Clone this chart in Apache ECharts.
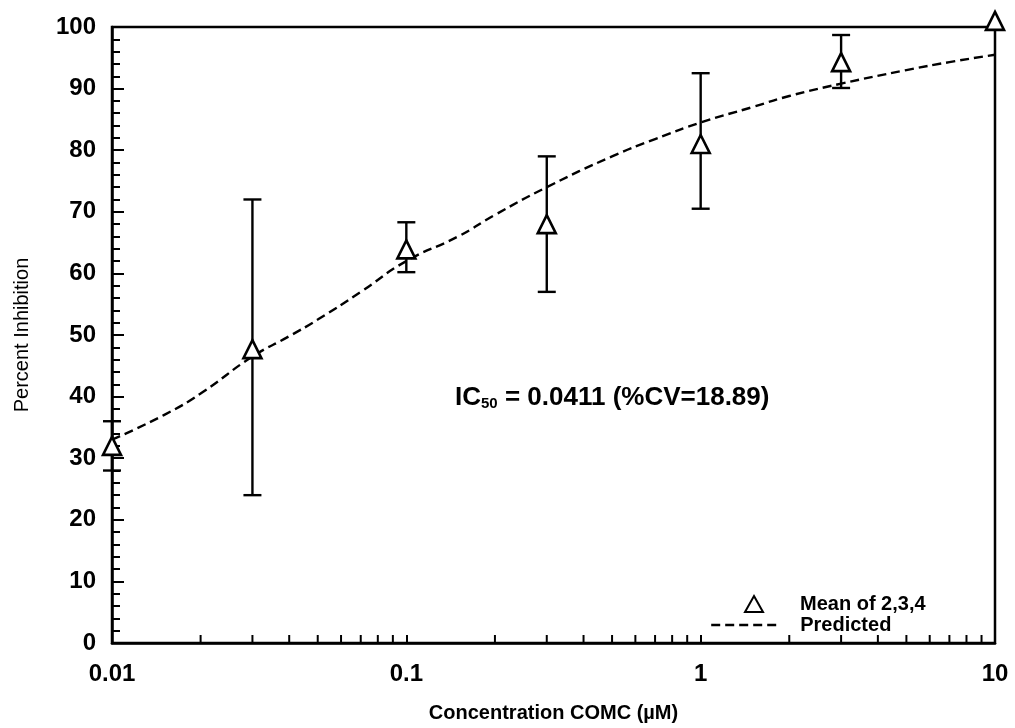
<!DOCTYPE html>
<html>
<head>
<meta charset="utf-8">
<script src="https://cdn.jsdelivr.net/npm/echarts@6/dist/echarts.min.js"></script>
<style>
html,body{margin:0;padding:0;background:#fff;}
#chart{width:1015px;height:728px;}
</style>
</head>
<body>
<div id="chart"></div>
<script>
// ---- data ----
const concentrations = [0.01, 0.03, 0.1, 0.3, 1, 3, 10];
const meanInhibition = [32, 47.7, 63.9, 68, 81, 94.3, 101];
const errLow = [28, 24, 60.2, 57, 70.5, 90.1, null];
const errHigh = [36, 72, 68.3, 79, 92.5, 98.7, null];

const predX = [0.01, 0.015, 0.02, 0.03, 0.04, 0.05, 0.07, 0.1, 0.15, 0.2, 0.3, 0.5, 0.7, 1, 1.5, 2, 3, 5, 7, 10];
const predY = [33, 37, 40.5, 46.5, 49.8, 52.5, 57, 62, 66, 69.5, 74, 79, 81.8, 84.5, 87, 88.8, 90.8, 93, 94.3, 95.5];

const xMinorTicks = [0.02,0.03,0.04,0.05,0.06,0.07,0.08,0.09,0.2,0.3,0.4,0.5,0.6,0.7,0.8,0.9,2,3,4,5,6,7,8,9];
const yTicks = {min: 0, max: 100, interval: 10};

const seriesNames = ['Mean of 2,3,4', 'Predicted'];
const xTitle = 'Concentration COMC (\u00b5M)';
const yTitle = 'Percent Inhibition';
const annotation = {ic: 'IC', sub: '50', rest: ' = 0.0411 (%CV=18.89)'};

// ---- chart ----
const FONT = '"Liberation Sans", Arial, Helvetica, sans-serif';
const chart = echarts.init(document.getElementById('chart'));

const errData = concentrations.map((c, i) => [c, errLow[i], errHigh[i]]).filter(d => d[1] !== null);
const legendText = {fontFamily: FONT, fontSize: 20, fontWeight: 'bold', color: '#000'};

chart.setOption({
  animation: false,
  backgroundColor: '#fff',
  grid: {left: 112, right: 20, top: 27, bottom: 83, show: true, borderColor: '#000', borderWidth: 2.5},
  xAxis: {
    type: 'log', logBase: 10, min: 0.01, max: 10,
    name: xTitle, nameLocation: 'middle', nameGap: 60,
    nameTextStyle: {fontFamily: FONT, fontSize: 20, fontWeight: 'bold', color: '#000'},
    axisLine: {show: true, lineStyle: {color: '#000', width: 2.5}},
    axisTick: {show: true, inside: true, length: 8, lineStyle: {color: '#000', width: 2}},
    minorTick: {show: false},
    splitLine: {show: false},
    minorSplitLine: {show: false},
    axisLabel: {
      margin: 19, fontFamily: FONT, fontSize: 24, fontWeight: 'bold', color: '#000',
      formatter: v => String(+Number(v).toPrecision(3))
    }
  },
  yAxis: {
    type: 'value', min: yTicks.min, max: yTicks.max, interval: yTicks.interval,
    name: yTitle, nameLocation: 'middle', nameGap: 80, nameRotate: 90,
    nameTextStyle: {fontFamily: FONT, fontSize: 20, color: '#000'},
    axisLine: {show: true, lineStyle: {color: '#000', width: 2.5}},
    axisTick: {show: true, inside: true, length: 12, lineStyle: {color: '#000', width: 2}},
    minorTick: {show: true, splitNumber: 5, length: 8, lineStyle: {color: '#000', width: 2}},
    splitLine: {show: false},
    axisLabel: {margin: 16, fontFamily: FONT, fontSize: 24, fontWeight: 'bold', color: '#000'}
  },
  legend: [
    {
      orient: 'vertical', left: 739, top: 589,
      itemWidth: 18, itemHeight: 16,
      textStyle: Object.assign({}, legendText, {padding: [0, 0, 0, 32]}),
      data: [{name: seriesNames[0], icon: 'triangle'}]
    },
    {
      orient: 'vertical', left: 705, top: 610,
      itemWidth: 70, itemHeight: 14,
      lineStyle: {width: 2.4, type: [9, 5], color: '#000'},
      textStyle: Object.assign({}, legendText, {padding: [0, 0, 0, 14]}),
      data: [{name: seriesNames[1], itemStyle: {opacity: 0}}]
    }
  ],
  graphic: [{
    type: 'text', left: 455, top: 385, z: 100,
    style: {
      text: '{a|' + annotation.ic + '}{s|' + annotation.sub + '}{a|' + annotation.rest + '}',
      rich: {
        a: {fontFamily: FONT, fontSize: 26, fontWeight: 'bold', fill: '#000', verticalAlign: 'bottom'},
        s: {fontFamily: FONT, fontSize: 15, fontWeight: 'bold', fill: '#000', padding: [10, 0, 0, 0], verticalAlign: 'bottom'}
      }
    }
  }],
  series: [
    {
      type: 'custom', name: 'errbars', silent: true, clip: false, z: 2,
      data: errData,
      renderItem: function (params, api) {
        const x = api.value(0);
        const lo = api.coord([x, api.value(1)]);
        const hi = api.coord([x, api.value(2)]);
        const w = 9;
        const st = {stroke: '#000', lineWidth: 2.4};
        return {type: 'group', children: [
          {type: 'line', shape: {x1: lo[0], y1: lo[1], x2: hi[0], y2: hi[1]}, style: st},
          {type: 'line', shape: {x1: lo[0] - w, y1: lo[1], x2: lo[0] + w, y2: lo[1]}, style: st},
          {type: 'line', shape: {x1: hi[0] - w, y1: hi[1], x2: hi[0] + w, y2: hi[1]}, style: st}
        ]};
      }
    },
    {
      type: 'custom', name: 'minorticks', silent: true, clip: false, z: 2,
      data: xMinorTicks.map(v => [v]),
      renderItem: function (params, api) {
        const p = api.coord([api.value(0), 0]);
        return {type: 'line', shape: {x1: p[0], y1: p[1], x2: p[0], y2: p[1] - 8}, style: {stroke: '#000', lineWidth: 2}};
      }
    },
    {
      type: 'line', name: seriesNames[1], smooth: true, symbol: 'none', z: 3,
      data: predX.map((x, i) => [x, predY[i]]),
      lineStyle: {color: '#000', width: 2.4, type: [9, 5]},
      itemStyle: {color: '#000'}
    },
    {
      type: 'scatter', name: seriesNames[0], symbol: 'triangle', symbolSize: 18, clip: false, z: 5,
      data: concentrations.map((c, i) => [c, meanInhibition[i]]),
      itemStyle: {color: '#fff', borderColor: '#000', borderWidth: 2.6, opacity: 1}
    }
  ]
});
</script>
</body>
</html>
